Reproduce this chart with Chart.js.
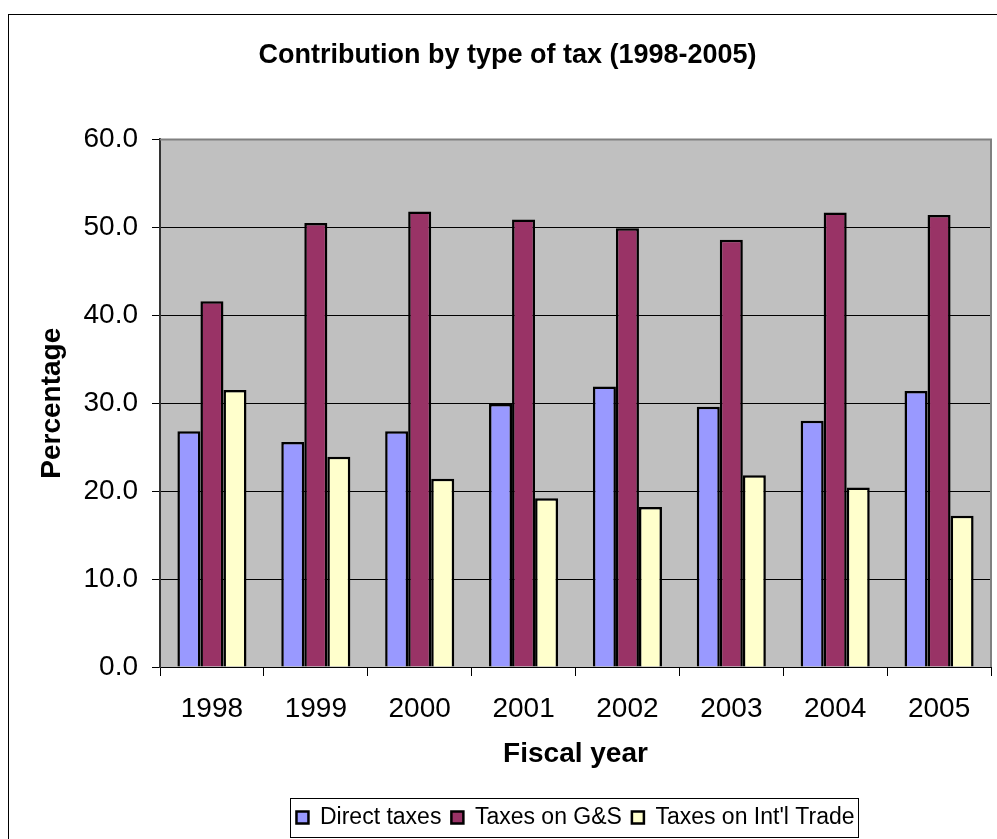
<!DOCTYPE html>
<html>
<head>
<meta charset="utf-8">
<title>Contribution by type of tax</title>
<script src="https://cdn.jsdelivr.net/npm/chart.js@4.4.1/dist/chart.umd.min.js"></script>
<style>
  html, body { margin: 0; padding: 0; background: #fff; overflow: hidden; }
  #wrap { width: 997px; height: 839px; }
</style>
</head>
<body>
<div id="wrap"><canvas id="barChart" width="997" height="839"></canvas></div>
<script>
// datos
const years = ['1998', '1999', '2000', '2001', '2002', '2003', '2004', '2005'];
const directTaxes = [26.8, 25.6, 26.8, 29.9, 31.9, 29.6, 28.0, 31.4];
const goodsServices = [41.6, 50.5, 51.8, 50.9, 49.9, 48.6, 51.7, 51.4];
const intlTrade = [31.5, 23.9, 21.4, 19.2, 18.2, 21.8, 20.4, 17.2];
const seriesNames = ['Direct taxes', 'Taxes on G&S', "Taxes on Int'l Trade"];

const FONT = "'Liberation Sans', Arial, sans-serif";

// fondo gris del area y marco exterior
const framePlugin = {
    id: 'frame',
    beforeDraw(chart) {
        const c = chart.ctx;
        const a = chart.chartArea;
        c.save();
        c.fillStyle = '#fff';
        c.fillRect(0, 0, chart.width, chart.height);
        c.strokeStyle = '#000';
        c.lineWidth = 1;
        c.strokeRect(8.5, 14.5, chart.width + 10, chart.height + 10);
        c.fillStyle = '#C0C0C0';
        c.fillRect(a.left, a.top, a.right - a.left, a.bottom - a.top);
        c.restore();
    },
    beforeDatasetsDraw(chart) {
        const c = chart.ctx;
        const a = chart.chartArea;
        c.save();
        c.strokeStyle = '#808080';
        c.lineWidth = 2;
        c.beginPath();
        c.moveTo(a.left, a.top);
        c.lineTo(a.right, a.top);
        c.lineTo(a.right, a.bottom);
        c.stroke();
        c.restore();
    },
    afterDraw(chart) {
        // caja de la leyenda
        const boxes = chart.legend.legendHitBoxes;
        if (!boxes || !boxes.length) return;
        let l = Infinity, r = -Infinity, t = Infinity, b = -Infinity;
        boxes.forEach(hb => {
            l = Math.min(l, hb.left);
            r = Math.max(r, hb.left + hb.width);
            t = Math.min(t, hb.top);
            b = Math.max(b, hb.top + hb.height);
        });
        const c = chart.ctx;
        c.save();
        c.strokeStyle = '#000';
        c.lineWidth = 1;
        c.strokeRect(Math.round(l) - 5.5, Math.round(t) - 7.5, Math.round(r - l) + 10, Math.round(b - t) + 16);
        c.restore();
    }
};

const ctx = document.getElementById('barChart').getContext('2d');
const barChart = new Chart(ctx, {
    type: 'bar',
    data: {
        labels: years,
        datasets: [{
            label: seriesNames[0],
            data: directTaxes,
            backgroundColor: '#9999FF',
            borderColor: '#000',
            borderWidth: 2.5
        }, {
            label: seriesNames[1],
            data: goodsServices,
            backgroundColor: '#993366',
            borderColor: '#000',
            borderWidth: 2.5
        }, {
            label: seriesNames[2],
            data: intlTrade,
            backgroundColor: '#FFFFCC',
            borderColor: '#000',
            borderWidth: 2.5
        }]
    },
    options: {
        responsive: false,
        animation: false,
        categoryPercentage: 0.665,
        barPercentage: 1.0,
        layout: {
            padding: { left: 8, right: -10, top: 14, bottom: 0 }
        },
        plugins: {
            title: {
                display: true,
                text: 'Contribution by type of tax (1998-2005)',
                color: '#000',
                font: { family: FONT, size: 27, weight: 'bold' },
                padding: { top: 25, bottom: 68 }
            },
            legend: {
                position: 'bottom',
                fullSize: false,
                labels: {
                    color: '#000',
                    font: { family: FONT, size: 23 },
                    boxWidth: 12,
                    boxHeight: 12,
                    padding: 10
                }
            },
            tooltip: { enabled: false }
        },
        scales: {
            x: {
                grid: {
                    offset: true,
                    drawOnChartArea: false,
                    tickLength: 9,
                    tickColor: '#000'
                },
                border: { color: '#000', width: 1 },
                ticks: {
                    color: '#000',
                    font: { family: FONT, size: 28 },
                    padding: 16
                },
                title: {
                    display: true,
                    text: 'Fiscal year',
                    color: '#000',
                    font: { family: FONT, size: 28, weight: 'bold' },
                    padding: { top: 10, bottom: 25 }
                },
                afterFit(scale) {
                    scale.height = 129;
                }
            },
            y: {
                min: 0,
                max: 60,
                grid: {
                    color: '#000',
                    lineWidth: 1,
                    tickLength: 8,
                    tickColor: '#000'
                },
                border: { color: '#333', width: 2 },
                ticks: {
                    stepSize: 10,
                    color: '#000',
                    font: { family: FONT, size: 28 },
                    padding: 14,
                    callback: v => v.toFixed(1)
                },
                title: {
                    display: true,
                    text: 'Percentage',
                    color: '#000',
                    font: { family: FONT, size: 28, weight: 'bold' },
                    padding: { top: 27, bottom: 0 }
                },
                afterFit(scale) {
                    scale.width = 152;
                }
            },
            // eje vacio a la derecha, solo para dejar margen
            yRight: {
                position: 'right',
                grid: { display: false },
                border: { display: false },
                ticks: { display: false },
                afterFit(scale) {
                    scale.width = 16;
                }
            }
        }
    },
    plugins: [framePlugin]
});
</script>
</body>
</html>
